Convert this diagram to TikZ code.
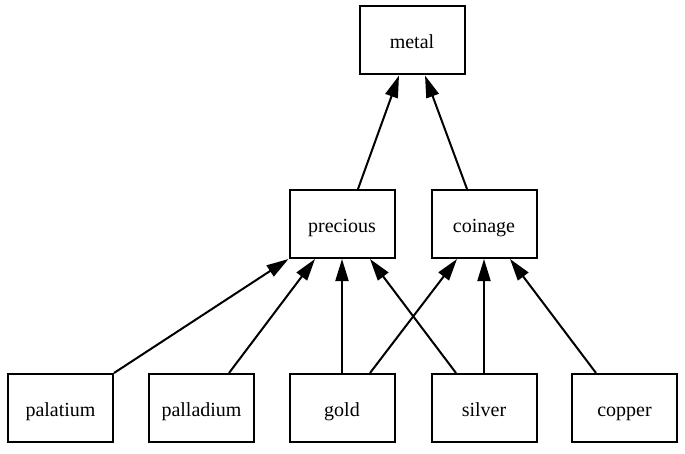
\documentclass[tikz,border=0pt]{standalone}
\usepackage{fontspec}
\setmainfont{Liberation Serif}
\usetikzlibrary{arrows.meta}
\begin{document}
\begin{tikzpicture}[x=1pt,y=1pt,
  box/.style={draw=black, line width=2pt, rectangle, minimum width=105pt, minimum height=68pt, inner sep=0pt, text height=16pt, text depth=0pt, font=\fontsize{20}{24}\selectfont, fill=white},
  edge/.style={draw=black, line width=2pt, -{Triangle[length=22pt,width=13pt]}}]
\useasboundingbox (0,0) rectangle (685,453);
\fill[white] (0,0) rectangle (685,453);
\node[box] (metal) at (412,412.5) {metal};
\node[box] (precious) at (342,229) {precious};
\node[box] (coinage) at (484,229) {coinage};
\node[box] (palatium) at (60.5,45) {palatium};
\node[box] (palladium) at (201.5,45) {palladium};
\node[box] (gold) at (342,45) {gold};
\node[box] (silver) at (484,45) {silver};
\node[box] (copper) at (624.5,45) {copper};
\draw[edge] (palatium.north east) -- (precious.south west);
\draw[edge] ([xshift=27.5pt]palladium.north) -- ([xshift=-27pt]precious.south);
\draw[edge] (gold.north) -- (precious.south);
\draw[edge] ([xshift=28pt]gold.north) -- ([xshift=-27pt]coinage.south);
\draw[edge] ([xshift=-28pt]silver.north) -- ([xshift=28pt]precious.south);
\draw[edge] (silver.north) -- (coinage.south);
\draw[edge] ([xshift=-28.5pt]copper.north) -- ([xshift=26pt]coinage.south);
\draw[edge] ([xshift=16pt]precious.north) -- ([xshift=-13pt]metal.south);
\draw[edge] ([xshift=-17pt]coinage.north) -- ([xshift=13pt]metal.south);
\end{tikzpicture}
\end{document}
